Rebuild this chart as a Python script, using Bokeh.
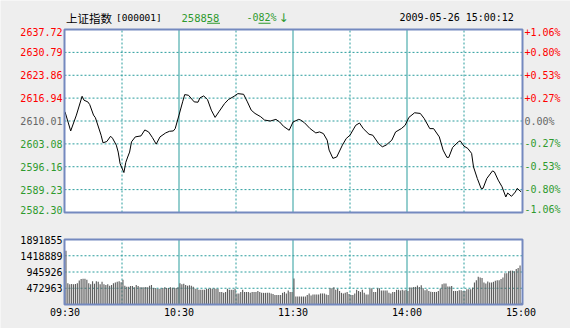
from bokeh.plotting import figure
from bokeh.models import Label, Range1d, ColumnDataSource
from bokeh.transform import dodge
from bokeh.embed import file_html
from bokeh.resources import INLINE

# ---------------- data ----------------
price_minutes = [0, 3, 6, 9, 10, 12, 13, 15, 16, 19, 20, 22, 24, 25, 27, 28, 29, 31, 32, 33,
                 34, 35, 37, 40, 42, 44, 46, 48, 50, 53, 55, 57, 58, 60, 62, 63, 65, 68, 70, 71,
                 73, 75, 77, 79, 81, 84, 86, 89, 91, 94, 96, 98, 100, 103, 105, 108, 111, 113, 115, 118,
                 120, 123, 124, 126, 129, 132, 134, 136, 138, 139, 141, 143, 146, 148, 150, 153, 155, 157, 160, 162,
                 165, 167, 169, 172, 174, 177, 179, 181, 184, 187, 189, 192, 194, 197, 199, 201, 202, 204, 207, 208,
                 210, 212, 214, 215, 217, 219, 220, 222, 225, 226, 228, 230, 232, 233, 235, 237, 238, 240]
price_values = [2612.8, 2607.0, 2611.8, 2617.5, 2616.3, 2615.8, 2615.0, 2611.8, 2611.0, 2605.7,
                2603.4, 2603.8, 2605.4, 2604.8, 2602.7, 2600.6, 2597.1, 2594.4, 2597.5, 2599.1,
                2600.6, 2603.7, 2605.2, 2605.5, 2607.3, 2606.7, 2605.0, 2603.0, 2605.2, 2606.4,
                2606.9, 2607.0, 2607.7, 2611.8, 2616.0, 2618.0, 2617.8, 2615.8, 2615.7, 2617.0,
                2617.6, 2616.5, 2613.3, 2611.1, 2612.8, 2615.3, 2616.5, 2617.5, 2618.3, 2618.1,
                2615.8, 2613.3, 2612.3, 2611.3, 2610.3, 2610.0, 2610.5, 2609.7, 2608.4, 2607.2,
                2609.7, 2610.5, 2610.3, 2609.5, 2607.7, 2606.4, 2606.7, 2606.2, 2604.2, 2601.2,
                2598.7, 2599.1, 2602.7, 2604.7, 2605.7, 2608.7, 2609.4, 2607.7, 2606.0, 2605.7,
                2603.2, 2602.2, 2602.7, 2604.2, 2606.7, 2607.7, 2608.7, 2611.1, 2612.5, 2612.3,
                2610.8, 2607.7, 2607.7, 2605.2, 2601.2, 2599.0, 2599.0, 2602.0, 2603.7, 2604.0,
                2602.4, 2601.7, 2600.2, 2596.1, 2592.6, 2589.6, 2589.6, 2592.6, 2594.9, 2594.6,
                2592.1, 2590.1, 2587.0, 2588.2, 2587.2, 2588.5, 2589.6, 2588.58]

prev_close = 2610.01
price_ticks = [2582.30, 2589.23, 2596.16, 2603.08, 2610.01, 2616.94, 2623.86, 2630.79, 2637.72]
pct_labels = ["-1.06%", "-0.80%", "-0.53%", "-0.27%", "0.00%", "+0.27%", "+0.53%", "+0.80%", "+1.06%"]

# per-minute volume, in thousands of shares (09:30 .. 15:00, 241 minutes)
volume_k = [1564,
            616, 589, 600, 589, 600, 616, 700, 740, 750, 750, 723, 620, 589, 678, 607, 678, 660, 589, 660,
            589, 571, 589, 544, 571, 616, 640, 660, 678, 650, 723, 544, 520, 520, 535, 535, 500, 571, 535,
            500, 500, 500, 510, 500, 544, 571, 482, 482, 455, 455, 465, 482, 500, 482, 482, 500, 490, 490,
            482, 500,
            616, 589, 607, 571, 544, 562, 544, 518, 455, 455, 428, 428, 428, 428, 455, 455, 473, 455, 473, 455,
            455, 366, 366, 339, 366, 455, 428, 428, 428, 455, 321, 321, 366, 428, 366, 366, 366, 339, 366, 366,
            366, 393, 366, 339, 339, 339, 339, 339, 321, 303, 277, 277, 277, 277, 339, 366, 321, 410, 366, 366,
            760,
            232, 232, 232, 232, 232, 232, 277, 321, 259, 294, 294, 294, 294, 321, 321, 321, 294, 277, 473, 473,
            500, 428, 455, 393, 339, 321, 339, 366, 303, 277, 277, 321, 428, 393, 366, 428, 339, 294, 294, 455,
            473, 366, 366, 473, 473, 410, 410, 410, 410, 339, 321, 366, 366, 428, 428, 410, 428, 410, 428, 394,
            493, 493, 512, 512, 552, 512, 562, 473, 414, 443, 394, 374, 365, 365, 365, 394, 463, 591, 611, 611,
            522, 522, 542, 394, 394, 394, 414, 414, 394, 394, 443, 443, 443, 493, 640, 709, 808, 788, 768, 640,
            611, 670, 640, 640, 660, 690, 709, 709, 739, 788, 906, 906, 966, 985, 985, 966, 1035, 1064, 1133, 49]
volume = [v * 1000 for v in volume_k]
vol_minutes = list(range(len(volume)))
vol_ticks = [472963, 945926, 1418889, 1891855]

time_ticks = [0, 60, 120, 180, 240]
time_labels = ["09:30", "10:30", "11:30", "14:00", "15:00"]
hour_lines = [60, 120, 180]
half_hour_lines = [30, 90, 150, 210]

title_name = "上证指数"
title_code = "[000001]"
last_price_text = "258858"
change_text = "-082%"
arrow_text = "↓"
timestamp_text = "2009-05-26 15:00:12"

# ---------------- style / geometry (page pixels) ----------------
W, H = 570, 328
X0, X1 = 64.5, 520.5      # pixel of first / last minute
BL, BR = 64, 522          # panel border lines (left / right)
P_TOP, P_BOT = 29, 212    # price panel
V_TOP, V_BOT = 239, 304   # volume panel

BG = "#EEEEEE"
BORDER = "#7489BF"
GRID = "#2A9D9D"
RED = "#FF0000"
GREEN = "#2E9A2E"
GRAY = "#666666"
BAR = "#5E5E5E"
MONO = "DejaVu Sans Mono"

t0, t1 = time_ticks[0], time_ticks[-1]
lo, hi = price_ticks[0], price_ticks[-1]
vmax = vol_ticks[-1]
px_per_unit = (P_BOT - P_TOP) / (hi - lo)


def px2x(px):
    return t0 + (px - X0) / (X1 - X0) * (t1 - t0)


def py2y(py):
    return hi - (py - P_TOP) / px_per_unit


def py2v(py):
    return (V_BOT - py) / (V_BOT - V_TOP) * vmax


p = figure(width=W, height=H,
           x_range=Range1d(px2x(0), px2x(W)), y_range=Range1d(py2y(H), py2y(0)),
           x_axis_type=None, y_axis_type=None, toolbar_location=None, output_backend="svg",
           min_border=0, min_border_left=0, min_border_right=0, min_border_top=0, min_border_bottom=0)
p.extra_y_ranges = {"vol": Range1d(py2v(H), py2v(0))}
p.background_fill_color = BG
p.border_fill_color = BG
p.outline_line_color = None

xl, xr = px2x(BL), px2x(BR)

# panel backgrounds
p.quad(left=[xl], right=[xr], bottom=[lo], top=[hi], fill_color="white", line_color=None)
p.quad(left=[xl], right=[xr], bottom=[0], top=[vmax], fill_color="white", line_color=None,
       y_range_name="vol")

# grid: price panel
inner_p = price_ticks[1:-1]
p.segment(x0=[xl] * len(inner_p), x1=[xr] * len(inner_p), y0=inner_p, y1=inner_p,
          line_color=GRID, line_width=1, line_dash="2 2")
p.segment(x0=half_hour_lines, x1=half_hour_lines, y0=[lo] * 4, y1=[hi] * 4,
          line_color=GRID, line_width=1, line_dash="2 2")
p.segment(x0=hour_lines, x1=hour_lines, y0=[lo] * 3, y1=[hi] * 3,
          line_color=GRID, line_width=1)

# grid: volume panel
inner_v = vol_ticks[:-1]
p.segment(x0=[xl] * len(inner_v), x1=[xr] * len(inner_v), y0=inner_v, y1=inner_v,
          line_color=GRID, line_width=1, line_dash="2 2", y_range_name="vol")
p.segment(x0=half_hour_lines, x1=half_hour_lines, y0=[0] * 4, y1=[vmax] * 4,
          line_color=GRID, line_width=1, line_dash="2 2", y_range_name="vol")
p.segment(x0=hour_lines, x1=hour_lines, y0=[0] * 3, y1=[vmax] * 3,
          line_color=GRID, line_width=1, y_range_name="vol")

# marks
vsrc = ColumnDataSource(dict(minute=vol_minutes, vol=volume))
p.vbar(x=dodge("minute", 0.5, range=p.x_range), top="vol", bottom=0, width=0.6, source=vsrc,
       fill_color=BAR, line_color=None, y_range_name="vol")
p.line(price_minutes, price_values, line_color="black", line_width=1)

# panel borders
p.quad(left=[xl], right=[xr], bottom=[lo], top=[hi], fill_color=None,
       line_color=BORDER, line_width=2)
p.quad(left=[xl], right=[xr], bottom=[0], top=[vmax], fill_color=None,
       line_color=BORDER, line_width=2, y_range_name="vol")

# price axis labels (left: price, right: percent)
for i, (v, pct) in enumerate(zip(price_ticks, pct_labels)):
    if v > prev_close + 1e-6:
        c = RED
    elif v < prev_close - 1e-6:
        c = GREEN
    else:
        c = GRAY
    y = v
    if i == len(price_ticks) - 1:
        y = v - 2.7 / px_per_unit
    elif i == 0:
        y = v + 2.7 / px_per_unit
    p.add_layout(Label(x=px2x(62), y=y, text=f"{v:.2f}", text_align="right",
                       text_baseline="middle", text_font=MONO, text_font_size="10px",
                       text_color=c))
    p.add_layout(Label(x=px2x(524), y=y, text=pct, text_align="left",
                       text_baseline="middle", text_font=MONO, text_font_size="10px",
                       text_color=c))

# volume axis labels
for v in vol_ticks:
    p.add_layout(Label(x=px2x(62), y=v, y_range_name="vol", text=str(v), text_align="right",
                       text_baseline="middle", text_font=MONO, text_font_size="10px",
                       text_color="black"))

# time labels
for t, lab in zip(time_ticks, time_labels):
    p.add_layout(Label(x=t, y=py2y(312), text=lab, text_align="center",
                       text_baseline="middle", text_font=MONO, text_font_size="10px",
                       text_color="black"))

# header
hy = py2y(17)
p.add_layout(Label(x=px2x(65.5), y=hy, text=title_name, text_align="left", text_baseline="middle",
                   text_font="Noto Sans CJK SC", text_font_size="11.5px", text_color="black"))
p.add_layout(Label(x=px2x(115.5), y=hy, text=title_code, text_align="left", text_baseline="middle",
                   text_font=MONO, text_font_size="9.5px", text_color="black"))
p.add_layout(Label(x=px2x(181), y=hy, text=last_price_text, text_align="left", text_baseline="middle",
                   text_font=MONO, text_font_size="10.5px", text_color=GREEN))
p.add_layout(Label(x=px2x(246), y=hy, text=change_text, text_align="left", text_baseline="middle",
                   text_font=MONO, text_font_size="10px", text_color=GREEN))
p.add_layout(Label(x=px2x(278), y=hy, text=arrow_text, text_align="left", text_baseline="middle",
                   text_font="DejaVu Sans", text_font_size="12px", text_color=GREEN))
p.add_layout(Label(x=px2x(399), y=hy, text=timestamp_text, text_align="left", text_baseline="middle",
                   text_font=MONO, text_font_size="10px", text_color="black"))
# decimal-place underlines in the header
p.quad(left=[px2x(206.5), px2x(258)], right=[px2x(219.5), px2x(270)],
       top=[py2y(22.2)] * 2, bottom=[py2y(23.2)] * 2, fill_color=GREEN, line_color=None)

open("out.html", "w").write(file_html(p, INLINE))
